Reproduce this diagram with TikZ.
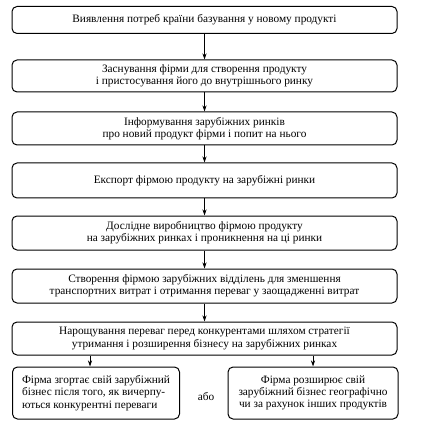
\documentclass[tikz,border=0pt]{standalone}
\usepackage{fontspec}
\setmainfont{Liberation Serif}
\usetikzlibrary{arrows.meta}
\begin{document}
\begin{tikzpicture}[x=1pt,y=-1pt,
  box/.style={draw, line width=1pt, rounded corners=5pt, align=center, inner sep=0pt, font=\fontsize{11.3}{12.3}\selectfont},
  arr/.style={-{Stealth[length=6pt,width=4pt]}, line width=0.8pt}]
\useasboundingbox (0,0) rectangle (420,435);
\node[box, minimum width=385pt, minimum height=27pt] (b1) at (204.5,20) {Виявлення потреб країни базування у новому продукті};
\node[box, minimum width=385pt, minimum height=32pt] (b2) at (204.5,76) {Заснування фірми для створення продукту\\і пристосування його до внутрішнього ринку};
\node[box, minimum width=385pt, minimum height=33pt] (b3) at (204.5,128.5) {Інформування зарубіжних ринків\\про новий продукт фірми і попит на нього};
\node[box, minimum width=385pt, minimum height=35pt] (b4) at (204.5,180.5) {Експорт фірмою продукту на зарубіжні ринки};
\node[box, minimum width=385pt, minimum height=34pt] (b5) at (204.5,233) {Дослідне виробництво фірмою продукту\\на зарубіжних ринках і проникнення на ці ринки};
\node[box, minimum width=385pt, minimum height=34pt] (b6) at (204.5,286) {Створення фірмою зарубіжних відділень для зменшення\\транспортних витрат і отримання переваг у заощадженні витрат};
\node[box, minimum width=385pt, minimum height=33pt] (b7) at (204.5,338.5) {Нарощування переваг перед конкурентами шляхом стратегії\\утримання і розширення бізнесу на зарубіжних ринках};
\node[box, align=left, minimum width=167pt, minimum height=52pt] (b8) at (96,393) {Фірма згортає свій зарубіжний\\бізнес після того, як вичерпу-\\ються конкурентні переваги};
\node[box, minimum width=170pt, minimum height=52pt] (b9) at (313,393) {Фірма розширює свій\\зарубіжний бізнес географічно\\чи за рахунок інших продуктів};
\node[font=\fontsize{11.3}{12.3}\selectfont] (or) at (206,397) {або};
\draw[arr] (b1) -- (b2);
\draw[arr] (b2) -- (b3);
\draw[arr] (b3) -- (b4);
\draw[arr] (b4) -- (b5);
\draw[arr] (b5) -- (b6);
\draw[arr] (b6) -- (b7);
\draw[arr] (b7.south -| 90,0) -- (b8.north -| 90,0);
\draw[arr] (b7.south -| 313,0) -- (b9.north -| 313,0);
\end{tikzpicture}
\end{document}
